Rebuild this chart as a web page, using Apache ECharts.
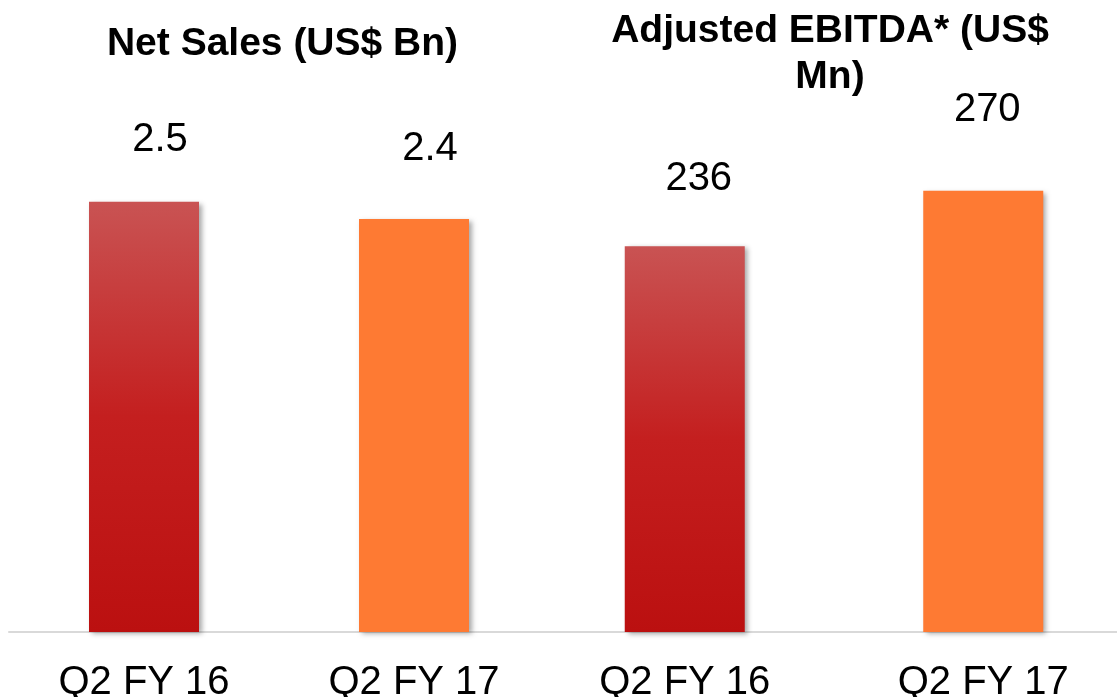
<!DOCTYPE html>
<html>
<head>
<meta charset="utf-8">
<script src="https://cdn.jsdelivr.net/npm/echarts@6/dist/echarts.min.js"></script>
<style>
  html, body { margin: 0; padding: 0; background: #fff; }
  #myChart { width: 1117px; height: 697px; }
</style>
</head>
<body>
<div id="myChart"></div>
<script>
  // data
  var salesCategories = ['Q2 FY 16', 'Q2 FY 17'];
  var salesValues = [2.5, 2.4];
  var ebitdaCategories = ['Q2 FY 16', 'Q2 FY 17'];
  var ebitdaValues = [236, 270];
  var salesTitle = 'Net Sales (US$ Bn)';
  var ebitdaTitle = 'Adjusted EBITDA* (US$\nMn)';

  // label placement (distance above bar, x shift)
  var salesLabelDist = [42, 50];
  var salesLabelShift = [16, 16];
  var ebitdaLabelDist = [47, 61];
  var ebitdaLabelShift = [14, 4];

  var FONT = 'Arial, "Liberation Sans", sans-serif';

  var redFill = new echarts.graphic.LinearGradient(0, 0, 0, 1, [
    { offset: 0, color: '#c95353' },
    { offset: 0.5, color: '#c41f1f' },
    { offset: 1, color: '#bb1010' }
  ]);
  var orangeFill = '#fe7a33';

  function barData(values, dist, shift) {
    return values.map(function (v, i) {
      return {
        value: v,
        itemStyle: { color: i === 0 ? redFill : orangeFill },
        label: { distance: dist[i], offset: [shift[i], 0] }
      };
    });
  }

  var xAxisCommon = {
    type: 'category',
    axisLine: { lineStyle: { color: '#d9d9d9', width: 2 } },
    axisTick: { show: false },
    axisLabel: { color: '#000', fontSize: 40, fontFamily: FONT, margin: 31 }
  };
  var yAxisCommon = {
    type: 'value',
    min: 0,
    show: false,
    splitLine: { show: false }
  };
  var barCommon = {
    type: 'bar',
    label: { show: true, position: 'top', color: '#000', fontSize: 40, fontFamily: FONT },
    itemStyle: {
      shadowColor: 'rgba(0,0,0,0.35)',
      shadowBlur: 5,
      shadowOffsetX: 3,
      shadowOffsetY: 2
    }
  };

  var myChart = echarts.init(document.getElementById('myChart'));
  var option = {
    animation: false,
    backgroundColor: '#fff',
    graphic: [
      {
        type: 'text', x: 282.5, y: 44,
        style: { text: salesTitle, fill: '#000', fontSize: 39, fontWeight: 'bold', fontFamily: FONT, align: 'center', verticalAlign: 'middle' }
      },
      {
        type: 'text', x: 830, y: 54,
        style: { text: ebitdaTitle, fill: '#000', fontSize: 39, fontWeight: 'bold', fontFamily: FONT, align: 'center', verticalAlign: 'middle', lineHeight: 46 }
      }
    ],
    grid: [
      { left: 9, width: 540, top: 115.6, bottom: 65, outerBoundsMode: 'none', containLabel: false },
      { left: 535.5, width: 597, top: 141.7, bottom: 65, outerBoundsMode: 'none', containLabel: false }
    ],
    xAxis: [
      Object.assign({}, xAxisCommon, { gridIndex: 0, data: salesCategories }),
      Object.assign({}, xAxisCommon, { gridIndex: 1, data: ebitdaCategories })
    ],
    yAxis: [
      Object.assign({}, yAxisCommon, { gridIndex: 0, max: 3 }),
      Object.assign({}, yAxisCommon, { gridIndex: 1, max: 300 })
    ],
    series: [
      Object.assign({}, barCommon, {
        name: 'Net Sales', xAxisIndex: 0, yAxisIndex: 0, barWidth: 110,
        data: barData(salesValues, salesLabelDist, salesLabelShift)
      }),
      Object.assign({}, barCommon, {
        name: 'Adjusted EBITDA', xAxisIndex: 1, yAxisIndex: 1, barWidth: 120,
        data: barData(ebitdaValues, ebitdaLabelDist, ebitdaLabelShift)
      })
    ]
  };
  myChart.setOption(option);
</script>
</body>
</html>
